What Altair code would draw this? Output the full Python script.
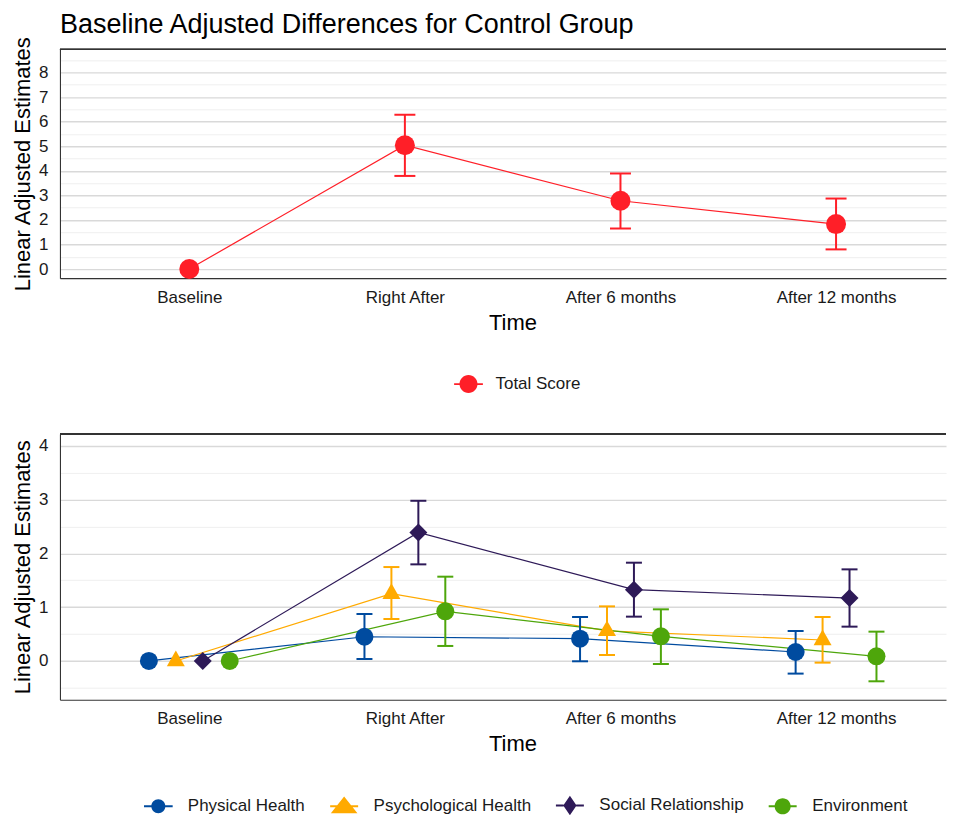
import altair as alt
import pandas as pd

# ---------------- data ----------------
times = ["Baseline", "Right After", "After 6 months", "After 12 months"]

total_label = "Total Score"
total_est = [0.0, 5.04, 2.78, 1.83]
total_lo = [None, 3.79, 1.65, 0.80]
total_hi = [None, 6.28, 3.89, 2.87]

domains = ["Physical Health", "Psychological Health", "Social Relationship", "Environment"]
phys_est = [0.0, 0.45, 0.415, 0.167]
phys_lo = [None, 0.037, -0.006, -0.235]
phys_hi = [None, 0.873, 0.817, 0.557]
psych_est = [0.0, 1.25, 0.56, 0.39]
psych_lo = [None, 0.78, 0.111, -0.031]
psych_hi = [None, 1.746, 1.015, 0.817]
social_est = [0.0, 2.39, 1.325, 1.17]
social_lo = [None, 1.796, 0.824, 0.638]
social_hi = [None, 2.978, 1.827, 1.703]
env_est = [0.0, 0.923, 0.458, 0.087]
env_lo = [None, 0.279, -0.056, -0.378]
env_hi = [None, 1.567, 0.96, 0.545]

top_y_ticks = [v / 2 for v in range(0, 18)]        # 0 .. 8.5
bot_y_ticks = [v / 2 for v in range(-1, 9)]        # -0.5 .. 4

# ---------------- styles ----------------
FONT = "Liberation Sans"
RED = "#FF1F28"
COLORS = ["#004B9F", "#FFAA00", "#2E1A58", "#4EA60B"]
W = 887
H_TOP = 229
H_BOT = 266
X_DOMAIN = [0.4, 4.51]
DODGE = 0.5

TRI = "M0,-1.155L1,0.577L-1,0.577Z"
SHAPES = ["circle", TRI, "diamond", "circle"]


def stubs(inner, outer, th):
    return ("M%s,%sL%s,%sL%s,%sL%s,%sZ" % (-outer, -th, -inner, -th, -inner, th, -outer, th) +
            "M%s,%sL%s,%sL%s,%sL%s,%sZ" % (inner, -th, outer, -th, outer, th, inner, th))


def circ(r):
    return "M%s,0A%s,%s 0 1 1 %s,0A%s,%s 0 1 1 %s,0Z" % (r, r, r, -r, r, r, r)


LEG_CIRCLE = circ(1) + stubs(0.95, 1.6, 0.1)
LEG_CIRCLE_B = circ(1) + stubs(0.95, 2.05, 0.14)
LEG_TRI_B = "M0,-1.4L1.9,1.0L-1.9,1.0Z" + stubs(1.0, 2.0, 0.14)
LEG_DIA_B = "M0,-1.4L0.95,0L0,1.4L-0.95,0Z" + stubs(0.9, 2.0, 0.14)
LEG_CIRCLE_G = circ(1.15) + stubs(1.1, 2.0, 0.14)
LEG_PATHS_B = [LEG_CIRCLE_B, LEG_TRI_B, LEG_DIA_B, LEG_CIRCLE_G]


def rows(series, est, lo, hi, s_idx, n):
    out = []
    off = (s_idx - (n - 1) / 2) * DODGE / n if n > 1 else 0.0
    for i, t in enumerate(times):
        out.append({"series": series, "shp": series, "time": t, "t": i + 1, "x": i + 1 + off,
                    "est": est[i], "lo": lo[i], "hi": hi[i]})
    return out


top_df = pd.DataFrame(rows(total_label, total_est, total_lo, total_hi, 0, 1))
series_vals = [(phys_est, phys_lo, phys_hi), (psych_est, psych_lo, psych_hi),
               (social_est, social_lo, social_hi), (env_est, env_lo, env_hi)]
bot_rows = []
for k, (e, l, h) in enumerate(series_vals):
    bot_rows += rows(domains[k], e, l, h, k, len(domains))
bot_df = pd.DataFrame(bot_rows)

label_expr = "[" + ",".join("'" + t + "'" for t in times) + "][datum.value - 1]"


def ternary(keys, vals):
    s = "'" + vals[-1] + "'"
    for k, v in reversed(list(zip(keys[:-1], vals[:-1]))):
        s = "datum.value === '" + k + "' ? '" + v + "' : " + s
    return s


def x_axis():
    return alt.Axis(values=[1, 2, 3, 4], labelExpr=label_expr, title="Time", grid=False,
                    ticks=False, domainColor="#333333", domainWidth=1.1,
                    labelFontSize=17, labelColor="#1A1A1A", labelPadding=11, labelFlush=False,
                    labelOverlap=False,
                    titleFontSize=22, titleFontWeight="normal", titleColor="#000000",
                    titlePadding=7, titleX=453)


def y_axis(vals):
    return alt.Axis(values=vals,
                    labelExpr="datum.value % 1 === 0 ? format(datum.value, 'd') : ''",
                    title="Linear Adjusted Estimates", grid=True, labelOverlap=False,
                    gridColor={"condition": {"test": "datum.value % 1 === 0", "value": "#D9D9D9"},
                               "value": "#EBEBEB"},
                    gridWidth={"condition": {"test": "datum.value % 1 === 0", "value": 1.4},
                               "value": 0.8},
                    ticks=False, domainColor="#333333", domainWidth=1.1,
                    labelFontSize=17, labelColor="#1A1A1A", labelPadding=12,
                    titleFontSize=22, titleFontWeight="normal", titleColor="#000000",
                    titlePadding=4)


def legend(items, paths, colors, size, lx, ly, loff, cpad):
    col = {"expr": ternary(items, colors)}
    return alt.Legend(title=None, orient="none", legendX=lx, legendY=ly,
                      direction="horizontal", labelFontSize=17, labelColor="#1A1A1A",
                      labelOffset=loff, columnPadding=cpad, padding=0, symbolSize=size,
                      labelLimit=400, symbolOpacity=1, symbolStrokeWidth=0,
                      symbolFillColor=col, symbolStrokeColor=col,
                      symbolType={"expr": ternary(items, paths)})


def panel(df, ydom, yticks, height, color, color_nolegend, shape, cap, lsize, psize):
    base = alt.Chart(df)
    xs = alt.Scale(domain=X_DOMAIN, nice=False, zero=False)
    ys = alt.Scale(domain=ydom, nice=False, zero=False)
    x = alt.X("x:Q", scale=xs, axis=x_axis())
    y = alt.Y("est:Q", scale=ys, axis=y_axis(yticks))
    ylo = alt.Y("lo:Q", scale=ys, axis=y_axis(yticks))
    yhi = alt.Y("hi:Q", scale=ys, axis=y_axis(yticks))
    border = base.mark_rule(color="#333333", strokeWidth=1.1).encode(y=alt.value(0))
    line = base.mark_line(strokeWidth=lsize).encode(x=x, y=y, color=color, detail="series:N")
    bar = base.mark_rule(strokeWidth=2).encode(x=x, y=ylo, y2="hi:Q", color=color)
    cap_lo = base.mark_tick(orient="horizontal", size=cap, thickness=2, opacity=1).encode(
        x=x, y=ylo, color=color)
    cap_hi = base.mark_tick(orient="horizontal", size=cap, thickness=2, opacity=1).encode(
        x=x, y=yhi, color=color)
    enc = dict(x=x, y=y, color=color_nolegend)
    if shape is not None:
        enc["shape"] = shape
    pts = base.mark_point(filled=True, opacity=1, size=psize).encode(**enc)
    return alt.layer(line, bar, cap_lo, cap_hi, pts, border).properties(width=W, height=height)


top_scale = alt.Scale(domain=[total_label], range=[RED])
top_color = alt.Color("series:N", scale=top_scale,
                      legend=legend([total_label], [LEG_CIRCLE], [RED], 324, 400, 326, 18, 20))
top = panel(top_df, [-0.37, 8.94], top_y_ticks, H_TOP, top_color, top_color, None,
            21, 1.2, 400).properties(
    title=alt.TitleParams("Baseline Adjusted Differences for Control Group", anchor="start",
                          frame="group", fontSize=27, fontWeight="normal", color="#000000",
                          offset=-3))

bot_scale = alt.Scale(domain=domains, range=COLORS)
bot_color = alt.Color("series:N", scale=bot_scale, sort=domains,
                      legend=legend(domains, LEG_PATHS_B, COLORS, 196, 90, 363, 21, 24))
bot_color_pts = alt.Color("series:N", scale=bot_scale, sort=domains, legend=None)
# shape scale domain listed in reverse order (same mapping) so it is not merged into the colour legend
bot_shape = alt.Shape("shp:N", scale=alt.Scale(domain=domains[::-1], range=SHAPES[::-1]),
                      legend=None)
bottom = panel(bot_df, [-0.72, 4.22], bot_y_ticks, H_BOT, bot_color, bot_color_pts, bot_shape,
               16, 1.2, 324)

chart = alt.vconcat(top, bottom, spacing=40).resolve_scale(
    color="independent", shape="independent", x="independent", y="independent"
).resolve_legend(color="independent").properties(
    padding={"left": 3, "top": 2, "right": 0, "bottom": 0}
).configure(font=FONT).configure_view(stroke=None)

chart.save("out.html", embed_options={"renderer": "svg", "actions": False})
